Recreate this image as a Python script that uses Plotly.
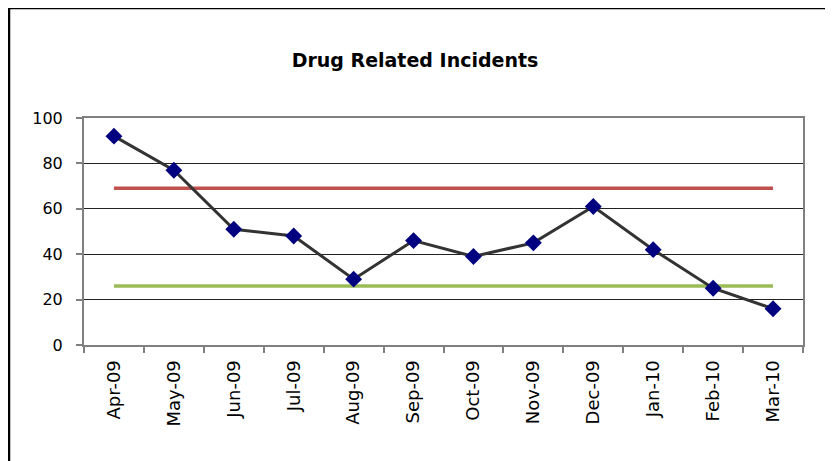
import plotly.graph_objects as go

months = ["Apr-09", "May-09", "Jun-09", "Jul-09", "Aug-09", "Sep-09",
          "Oct-09", "Nov-09", "Dec-09", "Jan-10", "Feb-10", "Mar-10"]
incidents = [92, 77, 51, 48, 29, 46, 39, 45, 61, 42, 25, 16]
upper_limit = [69] * len(months)
lower_limit = [26] * len(months)

W, H = 833, 461
OFF = 8  # page body margin offset
L, T = 84 - OFF, 118 - OFF
pw, ph = 719, 227
R = W - L - pw
B = H - T - ph

fig = go.Figure()
fig.add_trace(go.Scatter(x=months, y=upper_limit, mode="lines",
                         line=dict(color="#C0504D", width=3.5), hoverinfo="skip"))
fig.add_trace(go.Scatter(x=months, y=lower_limit, mode="lines",
                         line=dict(color="#9BBB59", width=3.5), hoverinfo="skip"))
fig.add_trace(go.Scatter(x=months, y=incidents, mode="lines+markers",
                         line=dict(color="#333333", width=3),
                         marker=dict(symbol="diamond", size=13, color="#000080",
                                     line=dict(width=0))))

# outer chart frame (left/top edges visible, others beyond the window)
fig.add_shape(type="rect", xref="paper", yref="paper",
              x0=(8 - OFF + 1 - L) / pw, x1=(W + 20 - L) / pw,
              y0=-(H + 20 - T - ph) / ph, y1=(T + ph - (7 - OFF + 1)) / ph,
              line=dict(color="black", width=2.5), layer="above")

fig.update_layout(
    width=W, height=H,
    margin=dict(l=L, r=R, t=T, b=B),
    paper_bgcolor="white", plot_bgcolor="white",
    showlegend=False,
    font=dict(family="DejaVu Sans", color="black", size=16),
    title=dict(text="<b>Drug Related Incidents</b>", x=(415 - OFF) / W,
               xref="container", y=1 - (60 - OFF) / H, yref="container",
               xanchor="center", yanchor="middle",
               font=dict(family="DejaVu Sans", size=19, color="black")),
)
fig.update_xaxes(type="category", range=[-0.5, len(months) - 0.5],
                 tickson="boundaries", ticks="outside", ticklen=6,
                 tickcolor="#808080", tickwidth=1.5, tickangle=-90,
                 showgrid=False, showline=True, linecolor="#808080", linewidth=2,
                 mirror=True, tickfont=dict(size=18), ticklabelstandoff=6)
fig.update_yaxes(range=[0, 100], dtick=20, ticks="outside", ticklen=6,
                 tickcolor="#808080", tickwidth=1.5,
                 showgrid=True, gridcolor="#222222", gridwidth=1,
                 showline=True, linecolor="#808080", linewidth=2, mirror=True,
                 zeroline=False, tickfont=dict(size=16), ticklabelstandoff=10)

fig.write_html("out.html")
